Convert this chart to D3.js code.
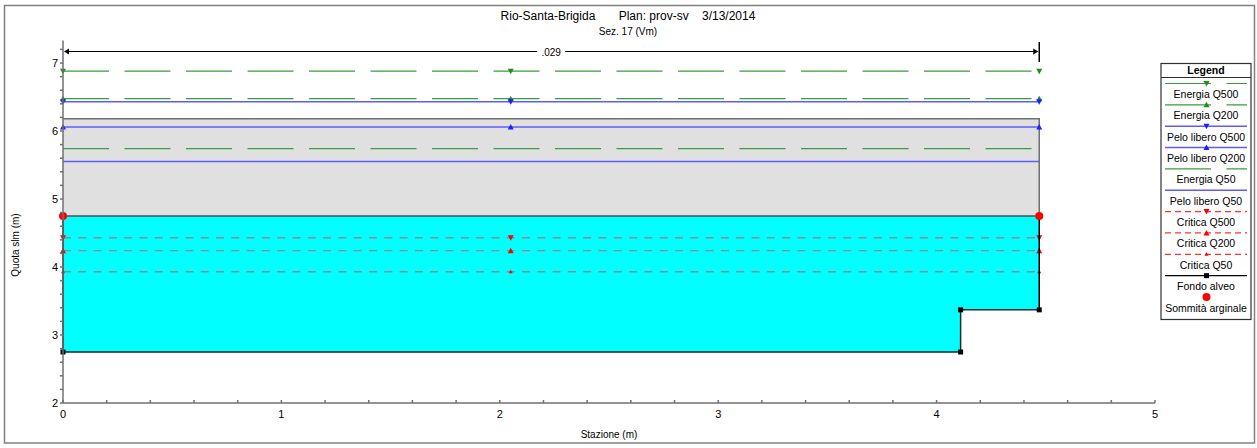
<!DOCTYPE html>
<html>
<head>
<meta charset="utf-8">
<script src="https://cdn.jsdelivr.net/npm/d3@7.9.0/dist/d3.min.js"></script>
<style>
  body { margin: 0; background: #fff; }
  svg { display: block; font-family: "Liberation Sans", Arial, sans-serif; }
</style>
</head>
<body>
<svg id="chart" width="1257" height="448"></svg>
<script>
// ground profile (Fondo alveo)
const groundX = [0, 0, 4.11, 4.11, 4.47, 4.47];
const groundY = [4.75, 2.75, 2.75, 3.37, 3.37, 4.75];
// bank tops (Sommità arginale)
const bankX = [0, 4.47];
const bankY = [4.75, 4.75];
// gray block above the banks
const blockTop = 6.18;
const waterTop = 4.75;
const sectionEnd = 4.47;
const markerStations = [0, 2.05, 4.47];

// profile levels
const profileNames = ["Energia Q500", "Energia Q200", "Pelo libero Q500", "Pelo libero Q200",
  "Energia Q50", "Pelo libero Q50", "Critica Q500", "Critica Q200", "Critica Q50"];
const profileLevels = [6.88, 6.475, 6.43, 6.06, 5.74, 5.55, 4.43, 4.24, 3.93];
const profileKind = ["energy", "energy", "ws", "ws", "energy", "ws", "crit", "crit", "crit"];
const profileMarker = ["down", "up", "down", "up", null, null, "down", "up", "small"];

const xTicks = [0, 1, 2, 3, 4, 5];
const yTicks = [2, 3, 4, 5, 6, 7];
const nValue = ".029";

const svg = d3.select("#chart");
const x = d3.scaleLinear().domain([0, 5]).range([63, 1155]);
const y = d3.scaleLinear().domain([2, 7]).range([403, 63]);
const yTop = 7.33;

const colors = { energy: "#3c9c3c", ws: "#5c5cff", crit: "#8c8c8c", critLegend: "#ff3030" };
const markerColor = { energy: "#1e8c1e", ws: "#1e1eff", crit: "#ff0000" };

// outer frame
svg.append("rect").attr("x", 4.5).attr("y", 5.5).attr("width", 1250).attr("height", 437.5)
  .attr("fill", "none").attr("stroke", "#808080").attr("stroke-width", 1.5);

// titles
svg.append("text").attr("x", 628).attr("y", 20).attr("text-anchor", "middle")
  .attr("font-size", 12).attr("xml:space", "preserve")
  .text("Rio-Santa-Brigida       Plan: prov-sv    3/13/2014");
svg.append("text").attr("x", 628).attr("y", 35).attr("text-anchor", "middle")
  .attr("font-size", 10).text("Sez. 17 (Vm)");

// gray block
svg.append("rect").attr("x", x(0)).attr("y", y(blockTop))
  .attr("width", x(sectionEnd) - x(0)).attr("height", y(waterTop) - y(blockTop))
  .attr("fill", "#e0e0e0");
svg.append("path")
  .attr("d", d3.line()([[x(0), y(blockTop)], [x(sectionEnd), y(blockTop)], [x(sectionEnd), y(waterTop)]]))
  .attr("fill", "none").attr("stroke", "#707070").attr("stroke-width", 1.5);

// water (cyan) fill
const waterPts = groundX.map((d, i) => [x(d), y(Math.min(groundY[i], waterTop))]);
svg.append("path").attr("d", d3.line()(waterPts) + "Z").attr("fill", "#00ffff");
svg.append("line").attr("x1", x(0)).attr("x2", x(sectionEnd)).attr("y1", y(waterTop)).attr("y2", y(waterTop))
  .attr("stroke", "#505050").attr("stroke-width", 1.5);

// profile lines
function drawMarker(g, type, cx, cy, color) {
  if (!type) return;
  let p;
  if (type === "down") p = [[cx - 3, cy - 2.5], [cx + 3, cy - 2.5], [cx, cy + 3]];
  else if (type === "up") p = [[cx - 3, cy + 2.5], [cx + 3, cy + 2.5], [cx, cy - 3]];
  else p = [[cx - 2, cy + 1.5], [cx + 2, cy + 1.5], [cx, cy - 2]];
  g.append("path").attr("d", d3.line()(p) + "Z").attr("fill", color);
}
const dash = { energy: "46,15.5", ws: null, crit: "8,7.3" };
const pg = svg.append("g");
profileLevels.forEach((lv, i) => {
  const k = profileKind[i];
  pg.append("line").attr("x1", x(0)).attr("x2", x(sectionEnd)).attr("y1", y(lv)).attr("y2", y(lv))
    .attr("stroke", colors[k]).attr("stroke-width", k === "ws" ? 1.5 : 1.3)
    .attr("stroke-dasharray", dash[k]);
});
profileLevels.forEach((lv, i) => {
  const k = profileKind[i];
  markerStations.forEach(s => drawMarker(pg, profileMarker[i], x(s), y(lv), markerColor[k]));
});

// ground line
const groundPts = groundX.map((d, i) => [x(d), y(groundY[i])]);
svg.append("path").attr("d", d3.line()(groundPts.slice(1, 5)))
  .attr("fill", "none").attr("stroke", "#102828").attr("stroke-width", 1.5);
svg.append("path").attr("d", d3.line()([groundPts[0], groundPts[1]]))
  .attr("fill", "none").attr("stroke", "#000").attr("stroke-width", 1.5);
svg.append("path").attr("d", d3.line()([groundPts[4], groundPts[5]]))
  .attr("fill", "none").attr("stroke", "#000").attr("stroke-width", 1.5);
groundPts.slice(1, 5).forEach(p => {
  svg.append("rect").attr("x", p[0] - 2.5).attr("y", p[1] - 2.5).attr("width", 5).attr("height", 5).attr("fill", "#000");
});
bankX.forEach((d, i) => {
  svg.append("circle").attr("cx", x(d)).attr("cy", y(bankY[i])).attr("r", 4).attr("fill", "#ff0000");
});

// n-value arrow
const arrowY = 51.5;
svg.append("line").attr("x1", x(0) + 2).attr("x2", x(sectionEnd) - 2).attr("y1", arrowY).attr("y2", arrowY)
  .attr("stroke", "#000").attr("stroke-width", 1);
svg.append("path").attr("d", `M${x(0) + 1},${arrowY} l5,-3 l0,6 Z`).attr("fill", "#000");
svg.append("path").attr("d", `M${x(sectionEnd) - 1},${arrowY} l-5,-3 l0,6 Z`).attr("fill", "#000");
svg.append("line").attr("x1", x(sectionEnd)).attr("x2", x(sectionEnd)).attr("y1", 42).attr("y2", 62)
  .attr("stroke", "#000").attr("stroke-width", 1.5);
const nLabelX = (x(0) + x(sectionEnd)) / 2;
svg.append("rect").attr("x", nLabelX - 14).attr("y", arrowY - 6).attr("width", 28).attr("height", 10).attr("fill", "#fff");
svg.append("text").attr("x", nLabelX).attr("y", arrowY + 4).attr("text-anchor", "middle")
  .attr("font-size", 10).text(nValue);

// axes
const axisColor = "#707070";
const yAxis = svg.append("g");
yAxis.append("line").attr("x1", x(0)).attr("x2", x(0)).attr("y1", y(yTop)).attr("y2", y(2))
  .attr("stroke", axisColor).attr("stroke-width", 1.5);
d3.range(2, 7.3, 0.2).forEach(v => {
  yAxis.append("line").attr("x1", x(0) - 3).attr("x2", x(0)).attr("y1", y(v)).attr("y2", y(v))
    .attr("stroke", axisColor).attr("stroke-width", 1.5);
});
yTicks.forEach(v => {
  yAxis.append("text").attr("x", x(0) - 5).attr("y", y(v) + 4).attr("text-anchor", "end")
    .attr("font-size", 11).text(v);
});
const xAxis = svg.append("g");
xAxis.append("line").attr("x1", x(0)).attr("x2", x(5)).attr("y1", y(2)).attr("y2", y(2))
  .attr("stroke", axisColor).attr("stroke-width", 1.5);
d3.range(0, 5.01, 0.2).forEach(v => {
  xAxis.append("line").attr("x1", x(v)).attr("x2", x(v)).attr("y1", y(2)).attr("y2", y(2) - 3)
    .attr("stroke", axisColor).attr("stroke-width", 1.5);
});
xTicks.forEach(v => {
  xAxis.append("text").attr("x", x(v)).attr("y", y(2) + 15).attr("text-anchor", "middle")
    .attr("font-size", 11).text(v);
});
svg.append("text").attr("x", 609).attr("y", 438).attr("text-anchor", "middle")
  .attr("font-size", 10).text("Stazione (m)");
svg.append("text").attr("transform", "translate(19,245) rotate(-90)").attr("text-anchor", "middle")
  .attr("font-size", 10).text("Quota slm (m)");

// legend
const lg = svg.append("g");
const lx0 = 1161, lx1 = 1251, lTop = 63.5, lBottom = 319.5;
lg.append("rect").attr("x", lx0).attr("y", lTop).attr("width", lx1 - lx0).attr("height", lBottom - lTop)
  .attr("fill", "#fff").attr("stroke", "#303030").attr("stroke-width", 1.2);
lg.append("line").attr("x1", lx0).attr("x2", lx1).attr("y1", 77.5).attr("y2", 77.5)
  .attr("stroke", "#303030").attr("stroke-width", 1.2);
lg.append("text").attr("x", (lx0 + lx1) / 2).attr("y", 74).attr("text-anchor", "middle")
  .attr("font-size", 10.5).attr("font-weight", "bold").text("Legend");
const lmid = (lx0 + lx1) / 2 + 0.5;
const legendItems = profileNames.concat(["Fondo alveo", "Sommità arginale"]);
legendItems.forEach((name, i) => {
  const ly = 83.5 + i * 21.35;
  if (i < profileNames.length) {
    const k = profileKind[i];
    const lcol = k === "crit" ? colors.critLegend : colors[k];
    lg.append("line").attr("x1", 1165).attr("x2", 1247).attr("y1", ly).attr("y2", ly)
      .attr("stroke", lcol).attr("stroke-width", k === "ws" ? 1.5 : 1.2)
      .attr("stroke-dasharray", k === "energy" ? "46,15.5" : (k === "crit" ? "6,4" : null));
    drawMarker(lg, profileMarker[i], lmid, ly, markerColor[k]);
  } else if (name === "Fondo alveo") {
    lg.append("line").attr("x1", 1165).attr("x2", 1247).attr("y1", ly).attr("y2", ly)
      .attr("stroke", "#000").attr("stroke-width", 1.2);
    lg.append("rect").attr("x", lmid - 2.5).attr("y", ly - 2.5).attr("width", 5).attr("height", 5).attr("fill", "#000");
  } else {
    lg.append("circle").attr("cx", lmid).attr("cy", ly).attr("r", 4).attr("fill", "#ff0000");
  }
  lg.append("text").attr("x", (lx0 + lx1) / 2).attr("y", ly + 14.5).attr("text-anchor", "middle")
    .attr("font-size", 10.5).text(name);
});
</script>
</body>
</html>
